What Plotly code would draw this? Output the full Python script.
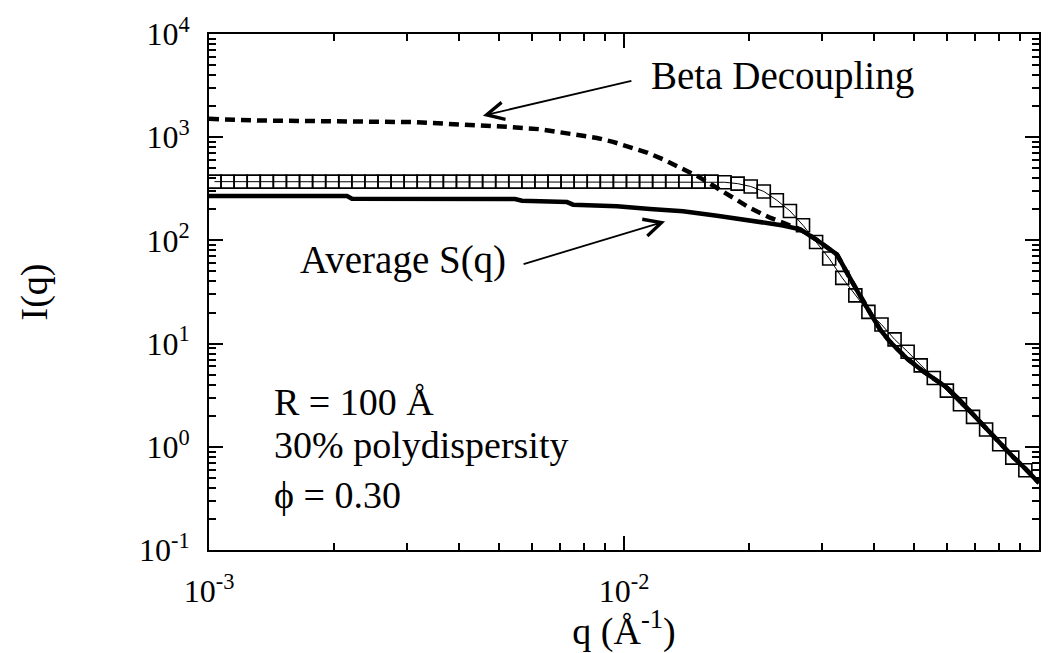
import plotly.graph_objects as go

# ---------------- data ----------------
# Average S(q)  (thick solid line)
avg_q = [0.001, 0.00215, 0.00221, 0.00546, 0.00568, 0.00729, 0.00754, 0.00876, 0.00962,
         0.01155, 0.01388, 0.01675, 0.02012, 0.02416, 0.02655, 0.02918, 0.03261, 0.03446,
         0.03642, 0.03916, 0.04140, 0.04375, 0.04807, 0.05254, 0.06003, 0.06345, 0.06934,
         0.07494, 0.08054, 0.08657, 0.09304, 0.1]
avg_I = [269, 269, 253, 252, 242, 235, 222, 220, 214,
         202, 192, 173.5, 155.6, 139.6, 128, 100.9, 72.9, 48.3,
         32.7, 19.8, 13.7, 10.4, 7.16, 5.40, 3.74, 3.01, 2.04,
         1.50, 1.09, 0.80, 0.605, 0.447]

# Beta decoupling (dashed line)
beta_q = [0.001, 0.001305, 0.003101, 0.004184, 0.005313, 0.006274, 0.006897, 0.007617,
          0.008607, 0.009408, 0.010339, 0.011361, 0.012416, 0.013643, 0.014994, 0.016390,
          0.018007, 0.020116, 0.022476, 0.025119, 0.02655, 0.02918, 0.03261, 0.03446,
          0.03642, 0.03916, 0.04140, 0.04375, 0.04807, 0.05254, 0.06003, 0.06345, 0.06934,
          0.07494, 0.08054, 0.08657, 0.09304, 0.1]
beta_I = [1507, 1452, 1400, 1331, 1256, 1195, 1127, 1049,
          983, 901, 808, 710, 610, 513, 422, 340,
          268, 206, 166, 139.6, 128, 100.9, 72.9, 48.3,
          32.7, 19.8, 13.7, 10.4, 7.16, 5.40, 3.74, 3.01, 2.04,
          1.50, 1.09, 0.80, 0.605, 0.447]

# open squares with thin line
sq_q = [1.0310e-3, 1.1086e-3, 1.1920e-3, 1.2818e-3, 1.3782e-3, 1.4819e-3, 1.5935e-3, 1.7134e-3,
        1.8423e-3, 1.9810e-3, 2.1311e-3, 2.2904e-3, 2.4628e-3, 2.6481e-3, 2.8474e-3, 3.0617e-3,
        3.2922e-3, 3.5399e-3, 3.8063e-3, 4.0928e-3, 4.4008e-3, 4.7320e-3, 5.0881e-3, 5.4711e-3,
        5.8828e-3, 6.3256e-3, 6.8016e-3, 7.3135e-3, 7.8640e-3, 8.4558e-3, 9.0922e-3, 9.7765e-3,
        1.0512e-2, 1.1303e-2, 1.2154e-2, 1.3069e-2, 1.4052e-2, 1.5110e-2, 1.6247e-2, 1.7470e-2,
        1.8785e-2, 2.0198e-2, 2.1719e-2, 2.3353e-2, 2.5111e-2, 2.7000e-2, 2.9033e-2, 3.1217e-2,
        3.3567e-2, 3.6093e-2, 3.8810e-2, 4.1730e-2, 4.4871e-2, 4.8248e-2, 5.1879e-2, 5.5784e-2,
        5.9982e-2, 6.4496e-2, 6.9350e-2, 7.4569e-2, 8.0182e-2, 8.6216e-2, 9.2705e-2, 1.0000e-1]
sq_I = [371, 371, 371, 371, 371, 371, 371, 371,
        371, 371, 371, 371, 371, 371, 371, 371,
        371, 371, 371, 371, 371, 371, 371, 371,
        371, 371, 371, 371, 371, 371, 371, 371,
        371, 371, 371, 371, 371, 371, 371, 366,
        355, 333, 298, 245, 193, 140, 96.6, 66.8,
        43.3, 29.3, 20.3, 15.3, 11.0, 8.34, 6.15, 4.64,
        3.50, 2.58, 1.95, 1.47, 1.06, 0.785, 0.592, 0.456]

# axis ticks
x_tickvals = [1e-3, 1e-2, 1e-1]
x_ticktext = ["10<sup>-3</sup>", "10<sup>-2</sup>", "10<sup>-1</sup>"]
x_minor = [2e-3, 3e-3, 4e-3, 5e-3, 6e-3, 7e-3, 8e-3, 9e-3,
           2e-2, 3e-2, 4e-2, 5e-2, 6e-2, 7e-2, 8e-2, 9e-2]
y_tickvals = [1e-1, 1e0, 1e1, 1e2, 1e3, 1e4]
y_ticktext = ["10<sup>-1</sup>", "10<sup>0</sup>", "10<sup>1</sup>",
              "10<sup>2</sup>", "10<sup>3</sup>", "10<sup>4</sup>"]
y_minor = [m * 10 ** e for e in range(-1, 4) for m in range(2, 10)]

FONT = "Liberation Serif, Times New Roman, serif"

fig = go.Figure()
fig.add_trace(go.Scatter(x=sq_q, y=sq_I, mode="lines+markers",
                         line=dict(color="black", width=1),
                         marker=dict(symbol="square-open", size=13, color="black",
                                     line=dict(width=1.6, color="black")),
                         showlegend=False, cliponaxis=False))
fig.add_trace(go.Scatter(x=beta_q, y=beta_I, mode="lines",
                         line=dict(color="black", width=4.5, dash="10px,6px"),
                         showlegend=False))
fig.add_trace(go.Scatter(x=avg_q, y=avg_I, mode="lines",
                         line=dict(color="black", width=4.5),
                         showlegend=False))

axis_common = dict(type="log", showgrid=False, zeroline=False, showline=True,
                   linecolor="black", linewidth=2, mirror="ticks",
                   ticks="inside", ticklen=14, tickwidth=2, tickcolor="black",
                   tickmode="array",
                   tickfont=dict(family=FONT, size=32, color="black"))

fig.update_xaxes(**axis_common, range=[-3, -1],
                 tickvals=x_tickvals, ticktext=x_ticktext,
                 minor=dict(tickmode="array", tickvals=x_minor, ticks="inside",
                            ticklen=7, tickwidth=2, tickcolor="black", showgrid=False),
                 ticklabelstandoff=12,
                 title=dict(text="q (Å<sup>-1</sup>)", standoff=5,
                            font=dict(family=FONT, size=38, color="black")))
fig.update_yaxes(**axis_common, range=[-1, 4],
                 tickvals=y_tickvals, ticktext=y_ticktext,
                 minor=dict(tickmode="array", tickvals=y_minor, ticks="inside",
                            ticklen=7, tickwidth=2, tickcolor="black", showgrid=False),
                 ticklabelstandoff=11,
                 title=dict(text="I(q)", standoff=80,
                            font=dict(family=FONT, size=38, color="black")))

txt = dict(family=FONT, size=38, color="black")
annotations = [
    # arrows (no text)
    dict(x=-2.340, y=3.209, xref="x", yref="y", text="", showarrow=True,
         ax=150, ay=-35, arrowhead=5, arrowsize=1.9, arrowwidth=1.8, arrowcolor="black"),
    dict(x=-1.901, y=2.183, xref="x", yref="y", text="", showarrow=True,
         ax=-143, ay=43, arrowhead=5, arrowsize=1.9, arrowwidth=1.8, arrowcolor="black"),
    # labels
    dict(x=-1.940, y=3.59, xref="x", yref="y", text="Beta Decoupling", showarrow=False,
         xanchor="left", yanchor="middle", font=dict(family=FONT, size=39, color="black")),
    dict(x=-2.785, y=1.81, xref="x", yref="y", text="Average S(q)", showarrow=False,
         xanchor="left", yanchor="middle", font=dict(family=FONT, size=39, color="black")),
    dict(x=-2.848, y=0.43, xref="x", yref="y", text="R = 100 Å", showarrow=False,
         xanchor="left", yanchor="middle", font=txt),
    dict(x=-2.848, y=0.02, xref="x", yref="y", text="30% polydispersity", showarrow=False,
         xanchor="left", yanchor="middle", font=txt),
    dict(x=-2.848, y=-0.47, xref="x", yref="y", text="ϕ = 0.30", showarrow=False,
         xanchor="left", yanchor="middle", font=txt),
]

fig.update_layout(width=1058, height=653,
                  margin=dict(l=209, r=19, t=26, b=96),
                  paper_bgcolor="white", plot_bgcolor="white",
                  font=dict(family=FONT, color="black"),
                  annotations=annotations, showlegend=False)

fig.write_html("out.html")
